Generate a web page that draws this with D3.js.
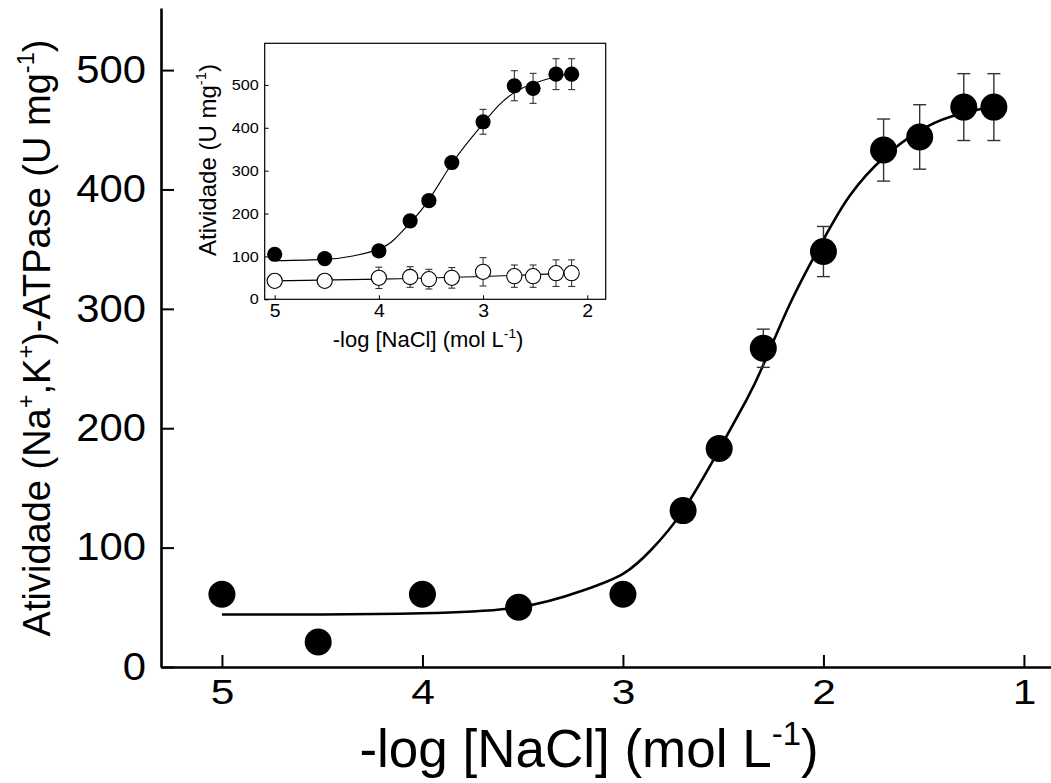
<!DOCTYPE html>
<html>
<head>
<meta charset="utf-8">
<script src="https://cdn.jsdelivr.net/npm/d3@7"></script>
<style>
  html, body { margin: 0; padding: 0; background: #fff; }
  svg { display: block; font-family: "Liberation Sans", Arial, sans-serif; }
</style>
</head>
<body>
<svg></svg>
<script>
const width = 1051;
const height = 783;

// main plot: -log[NaCl] vs activity
const mainX = [5, 4.52, 4, 3.52, 3, 2.7, 2.52, 2.3, 2, 1.7, 1.52, 1.3, 1.15];
const mainY = [61, 21, 61, 50, 61, 131, 183, 267, 348, 433, 444, 469, 469];
const mainErr = [4, 4, 4, 4, 4, 6, 8, 16, 21, 26, 27, 28, 28];
// fitted curve
const mainCurveX = [5, 4.5, 4, 3.52, 3.2, 3, 2.86, 2.7, 2.52, 2.383, 2.3, 2.159, 2, 1.868, 1.697, 1.522, 1.366, 1.15];
const mainCurveY = [44, 44, 45, 50, 64, 78, 98, 131, 182, 224, 253, 307, 358, 395, 427, 449, 461, 470];
const mainXTicks = [5, 4, 3, 2, 1];
const mainYTicks = [0, 100, 200, 300, 400, 500];

// inset
const insetX = [5, 4.52, 4, 3.7, 3.52, 3.3, 3, 2.7, 2.52, 2.3, 2.15];
const insetFilled = [105, 95, 113, 183, 230, 319, 414, 498, 492, 525, 525];
const insetFilledErr = [4, 4, 6, 8, 8, 10, 29, 35, 35, 36, 36];
const insetOpen = [43, 43, 50, 52, 47, 50, 64, 54, 54, 61, 61];
const insetOpenErr = [10, 10, 25, 24, 23, 24, 33, 26, 26, 31, 31];
const insetFilledCurveX = [5, 4.52, 4.25, 4, 3.85, 3.7, 3.52, 3.3, 3.1, 3, 2.85, 2.7, 2.52, 2.3, 2.15];
const insetFilledCurveY = [90, 93, 101, 117, 140, 178, 232, 316, 380, 410, 452, 482, 503, 519, 526];
const insetOpenCurveX = [5, 4, 3, 2.15];
const insetOpenCurveY = [43, 47, 53, 61];
const insetXTicks = [5, 4, 3, 2];
const insetYTicks = [0, 100, 200, 300, 400, 500];

const svg = d3.select('svg').attr('width', width).attr('height', height);

// helper for text with superscripts
function rich(text, parts, size) {
  let up = false;
  parts.forEach((p) => {
    const t = text.append('tspan').text(p[0]);
    if (p[1] && !up) {
      t.attr('dy', -size * 0.42).attr('font-size', size * 0.62);
      up = true;
    } else if (!p[1] && up) {
      t.attr('dy', size * 0.42);
      up = false;
    } else if (p[1]) {
      t.attr('font-size', size * 0.62);
    }
  });
}

// widen tick labels a bit (reference glyphs are stretched)
function styleTicks(g, size, sx) {
  g.selectAll('.tick text')
    .attr('font-size', size)
    .attr('fill', '#000')
    .attr('font-family', '"Liberation Sans", Arial, sans-serif')
    .each(function () {
      const t = d3.select(this);
      const tx = +t.attr('x') || 0;
      t.attr('x', tx / sx).attr('transform', `scale(${sx},1)`);
    });
}

// ---------- main ----------
const x = d3.scaleLinear().domain([5.304, 0.865]).range([161, 1051]);
const y = d3.scaleLinear().domain([0, 552]).range([667, 8]);

const yAxis = svg.append('g')
  .attr('transform', 'translate(161,0)')
  .call(d3.axisLeft(y).tickValues(mainYTicks).tickFormat(d3.format('d'))
    .tickSize(-13).tickSizeOuter(0).tickPadding(15));
yAxis.select('.domain').attr('stroke-width', 2.6);
yAxis.selectAll('.tick line').attr('stroke-width', 2);
styleTicks(yAxis, 38, 1.1);

const xAxis = svg.append('g')
  .attr('transform', 'translate(0,667)')
  .call(d3.axisBottom(x).tickValues(mainXTicks).tickFormat(d3.format('d'))
    .tickSize(-12).tickSizeOuter(0).tickPadding(11));
xAxis.select('.domain').attr('stroke-width', 2.6);
xAxis.selectAll('.tick line').attr('stroke-width', 2);
styleTicks(xAxis, 36, 1.18);

const yTitle = svg.append('text')
  .attr('transform', 'translate(50,338) rotate(-90)')
  .attr('text-anchor', 'middle')
  .attr('font-size', 38);
rich(yTitle, [['Atividade (Na'], ['+', 1], [',K'], ['+', 1], [')-ATPase (U mg'], ['-1', 1], [')']], 38);

const xTitle = svg.append('text')
  .attr('x', 589).attr('y', 767)
  .attr('text-anchor', 'middle')
  .attr('font-size', 53);
rich(xTitle, [['-log [NaCl] (mol L'], ['-1', 1], [')']], 53);

const main = mainX.map((d, i) => ({ x: d, y: mainY[i], e: mainErr[i] }));
const mainCurve = mainCurveX.map((d, i) => [d, mainCurveY[i]]);

const line = d3.line().x((d) => x(d[0])).y((d) => y(d[1])).curve(d3.curveNatural);

svg.append('path')
  .datum(mainCurve)
  .attr('d', line)
  .attr('fill', 'none')
  .attr('stroke', '#000')
  .attr('stroke-width', 2.6);

const eb = svg.append('g').attr('stroke', '#333').attr('stroke-width', 1.4);
main.forEach((d) => {
  const cx = x(d.x);
  eb.append('line').attr('x1', cx).attr('x2', cx).attr('y1', y(d.y - d.e)).attr('y2', y(d.y + d.e));
  [d.y - d.e, d.y + d.e].forEach((v) => {
    eb.append('line').attr('x1', cx - 6.5).attr('x2', cx + 6.5).attr('y1', y(v)).attr('y2', y(v));
  });
});

svg.append('g').selectAll('circle')
  .data(main)
  .enter()
  .append('circle')
  .attr('cx', (d) => x(d.x))
  .attr('cy', (d) => y(d.y))
  .attr('r', 13.5)
  .attr('fill', '#000');

// ---------- inset ----------
const ix = d3.scaleLinear().domain([5.096, 1.823]).range([264.7, 605.7]);
const iy = d3.scaleLinear().domain([0, 597]).range([299.3, 43.3]);

svg.append('rect')
  .attr('x', 264.7).attr('y', 43.3)
  .attr('width', 341).attr('height', 256)
  .attr('fill', '#fff').attr('stroke', '#000').attr('stroke-width', 1.2);

const iyAxis = svg.append('g')
  .attr('transform', 'translate(264.7,0)')
  .call(d3.axisLeft(iy).tickValues(insetYTicks).tickFormat(d3.format('d'))
    .tickSize(-4).tickSizeOuter(0).tickPadding(6));
iyAxis.select('.domain').remove();
styleTicks(iyAxis, 14.5, 1.12);

const ixAxis = svg.append('g')
  .attr('transform', 'translate(0,299.3)')
  .call(d3.axisBottom(ix).tickValues(insetXTicks).tickFormat(d3.format('d'))
    .tickSize(-4).tickSizeOuter(0).tickPadding(5));
ixAxis.select('.domain').remove();
styleTicks(ixAxis, 18, 1.08);

const iyTitle = svg.append('text')
  .attr('transform', 'translate(216,160) rotate(-90)')
  .attr('text-anchor', 'middle')
  .attr('font-size', 24);
rich(iyTitle, [['Atividade (U mg'], ['-1', 1], [')']], 24);

const ixTitle = svg.append('text')
  .attr('x', 428).attr('y', 347)
  .attr('text-anchor', 'middle')
  .attr('font-size', 22);
rich(ixTitle, [['-log [NaCl] (mol L'], ['-1', 1], [')']], 22);

const iline = d3.line().x((d) => ix(d[0])).y((d) => iy(d[1])).curve(d3.curveNatural);

svg.append('path')
  .datum(insetFilledCurveX.map((d, i) => [d, insetFilledCurveY[i]]))
  .attr('d', iline)
  .attr('fill', 'none').attr('stroke', '#000').attr('stroke-width', 1.1);
svg.append('path')
  .datum(insetOpenCurveX.map((d, i) => [d, insetOpenCurveY[i]]))
  .attr('d', iline)
  .attr('fill', 'none').attr('stroke', '#000').attr('stroke-width', 1.1);

const filled = insetX.map((d, i) => ({ x: d, y: insetFilled[i], e: insetFilledErr[i] }));
const open = insetX.map((d, i) => ({ x: d, y: insetOpen[i], e: insetOpenErr[i] }));

const ieb = svg.append('g').attr('stroke', '#222').attr('stroke-width', 1);
filled.concat(open).forEach((d) => {
  const cx = ix(d.x);
  ieb.append('line').attr('x1', cx).attr('x2', cx).attr('y1', iy(d.y - d.e)).attr('y2', iy(d.y + d.e));
  [d.y - d.e, d.y + d.e].forEach((v) => {
    ieb.append('line').attr('x1', cx - 3.5).attr('x2', cx + 3.5).attr('y1', iy(v)).attr('y2', iy(v));
  });
});

svg.append('g').selectAll('circle')
  .data(open)
  .enter()
  .append('circle')
  .attr('cx', (d) => ix(d.x))
  .attr('cy', (d) => iy(d.y))
  .attr('r', 7.6)
  .attr('fill', '#fff')
  .attr('stroke', '#000')
  .attr('stroke-width', 1.1);

svg.append('g').selectAll('circle')
  .data(filled)
  .enter()
  .append('circle')
  .attr('cx', (d) => ix(d.x))
  .attr('cy', (d) => iy(d.y))
  .attr('r', 7.6)
  .attr('fill', '#000');
</script>
</body>
</html>
